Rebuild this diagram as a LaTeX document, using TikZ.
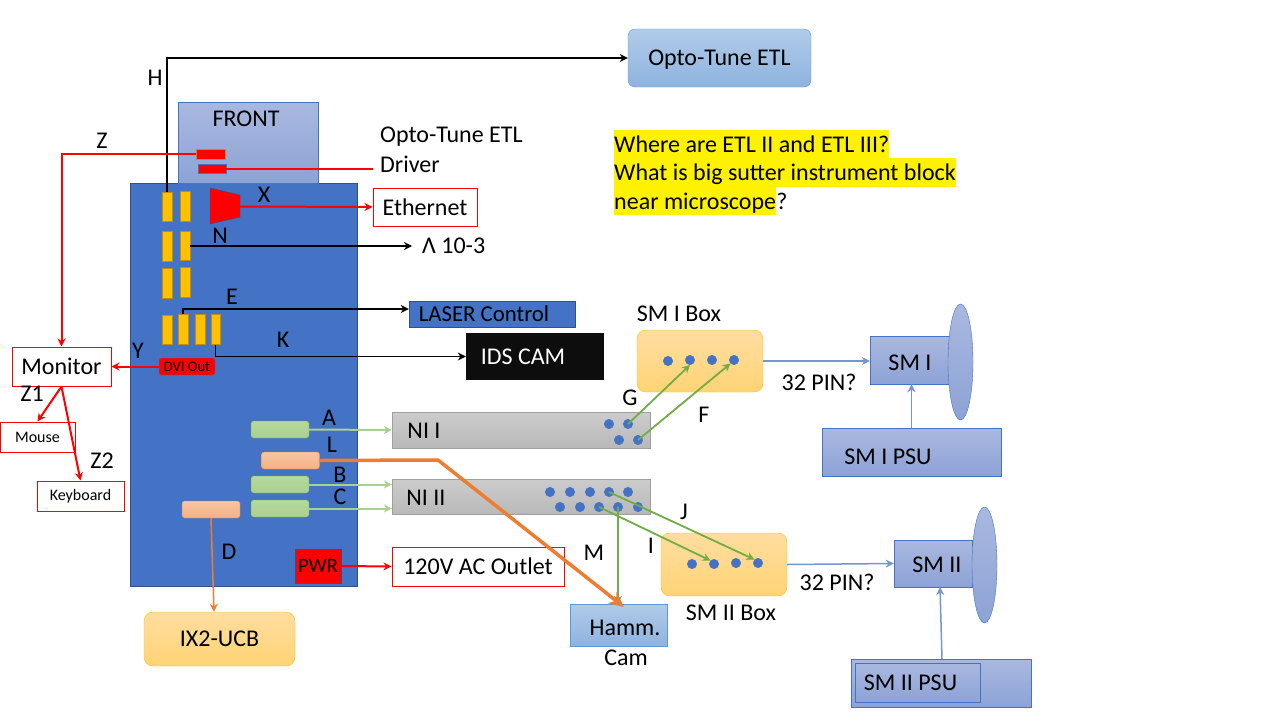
\documentclass[tikz,border=0pt]{standalone}
\usepackage{fontspec}
\setmainfont{Carlito}
\usetikzlibrary{positioning,shapes.geometric,arrows.meta}
\definecolor{mainblue}{HTML}{4472C4}
\definecolor{mainedge}{HTML}{2F528F}
\definecolor{slotfill}{HTML}{FFC000}
\definecolor{slotedge}{HTML}{BF9000}
\definecolor{lightgreen}{HTML}{A9D18E}
\definecolor{darkgreen}{HTML}{70AD47}
\definecolor{cableorange}{HTML}{ED7D31}
\definecolor{paletop}{HTML}{A9B8DF}
\definecolor{palebottom}{HTML}{8DA3D6}
\definecolor{skytop}{HTML}{B1CBE9}
\definecolor{skybottom}{HTML}{8EB3DF}
\definecolor{skyedge}{HTML}{5B9BD5}
\definecolor{suntop}{HTML}{FFDDA0}
\definecolor{sunbottom}{HTML}{FFD475}
\tikzset{
  sized/.style 2 args={inner sep=0pt,minimum width=#1,minimum height=#2},
  bluebox/.style={draw=mainblue,top color=paletop,bottom color=palebottom},
  skybox/.style={draw=skyedge,top color=skytop,bottom color=skybottom},
  sunbox/.style={draw=slotfill,rounded corners=9pt,top color=suntop,bottom color=sunbottom},
  redbox/.style={draw=red,fill=white,line width=1pt},
  nibox/.style={draw=gray!75,top color=gray!40,bottom color=gray!55},
  slot/.style={draw=slotedge,fill=slotfill,inner sep=0pt,line width=.8pt},
  greenplug/.style={draw=darkgreen,rounded corners=2.5pt,top color=lightgreen!85,bottom color=lightgreen,sized={58pt}{17pt}},
  orangeplug/.style={draw=cableorange,rounded corners=2.5pt,top color=cableorange!45,bottom color=cableorange!60,sized={58pt}{17pt}},
  pindot/.style={circle,draw=mainblue,fill=mainblue,inner sep=0pt,minimum size=9.5pt},
  qline/.style={anchor=west,inner sep=0pt,text height=22.5pt,text depth=6pt},
  smalltext/.style={font=\fontsize{16}{19}\selectfont},
  redline/.style={->,draw=red,line width=2pt},
  blackline/.style={->,draw=black,line width=1.8pt},
  greenline/.style={->,draw=lightgreen,line width=2pt},
  wireline/.style={->,draw=darkgreen,line width=1.8pt},
  sensorline/.style={->,draw=mainblue!75,line width=1.5pt}
}
\begin{document}
\begin{tikzpicture}[x=1pt,y=-1pt,>={Stealth[length=8pt,width=8pt]},font=\fontsize{24}{28}\selectfont]
  \useasboundingbox (0,0) rectangle (1280,720);
  % computer and front panel
  \node[draw=mainedge,fill=mainblue,sized={227pt}{403pt}] (pc) at (243.5,384.5) {};
  \node[bluebox,sized={140pt}{81pt}] (front) at (248,142.5) {};
  \node (frontlabel) at (246,119) {FRONT};
  \node[draw=slotedge,fill=red,sized={29pt}{10pt}] (frontA) at (210.5,154) {};
  \node[draw=mainblue,fill=red,sized={28pt}{9pt}] (frontB) at (212,168.5) {};
  \node[anchor=west,inner sep=0pt,text depth=0pt] (driverA) at (380,135) {Opto-Tune ETL};
  \node[anchor=west,inner sep=0pt] (driverB) at (380,164) {Driver};
  \draw[red,line width=2pt] (frontB.east) -- ([xshift=-7pt]driverB.west |- frontB.east);
  % outlets on the back
  \foreach \n/\x/\y/\w in {slotA/167/207/10,slotB/185/206.5/10,slotC/167/246.5/10,slotD/185/246/10,
      slotE/167/283.5/10,slotF/185/282.5/10,slotG/167/330/10,slotH/183/329.5/10,slotI/200/329.5/10,slotJ/215.5/329.5/9}
    \node[slot,minimum width=\w pt,minimum height=29.5pt] (\n) at (\x,\y) {};
  \draw[draw=mainedge,fill=red] (210,188) coordinate (trapL) -- (240,195) -- (240,217) -- (210,224) -- cycle;
  \coordinate (trapR) at (240,206.5);
  \node[draw=mainblue,fill=red,rounded corners=2pt,sized={56pt}{17pt},font=\fontsize{14.6}{17}\selectfont] (dvi) at (187,366.5) {DVI Out};
  \node[greenplug] (plugA) at (280,429.5) {};
  \node[orangeplug] (plugL) at (290.5,460.5) {};
  \node[greenplug] (plugB) at (280,484.5) {};
  \node[greenplug] (plugC) at (280,508.5) {};
  \node[orangeplug] (plugD) at (211,509.5) {};
  \node[draw=mainedge,fill=red,sized={46pt}{34pt},font=\fontsize{20.5}{24}\selectfont] (pwr) at (318,566) {PWR\hspace{3pt}};
  % boxes outside
  \node[skybox,rounded corners=7pt,sized={183pt}{58pt},text depth=0pt] (etl) at (719.5,58) {Opto-Tune ETL};
  \node[redbox,sized={104pt}{38pt}] (ethernet) at (425,207) {Ethernet};
  \node[anchor=west,inner sep=0pt] (lambda) at (422,246) {Λ 10-3};
  \node[draw=mainedge,fill=mainblue,sized={166pt}{26pt},font=\fontsize{22.8}{27}\selectfont] (laser) at (492,314) {\hspace{-16pt}LASER Control};
  \node[fill=black!95,text=white,sized={138pt}{47pt}] (idscam) at (535,356.5) {\hspace{-24pt}IDS CAM};
  \node[redbox,sized={99pt}{39pt}] (monitor) at (61.5,366.5) {Monitor};
  \node[redbox,sized={75pt}{30pt},smalltext] (mouse) at (37.5,437) {Mouse};
  \node[redbox,sized={87pt}{30pt},smalltext] (keyboard) at (80.5,496) {Keyboard};
  \node[nibox,sized={258pt}{36pt}] (niA) at (521,430) {};
  \node[nibox,sized={258pt}{35pt}] (niB) at (521,496.5) {};
  \node (niAlabel) at (424,431) {NI I};
  \node (niBlabel) at (426,498) {NI II};
  \node[redbox,sized={172pt}{39pt}] (outlet) at (478,566.5) {120V AC Outlet};
  \node[sunbox,sized={151pt}{54pt}] (ix) at (219.5,639) {IX2-UCB};
  \node[skybox,sized={97pt}{42pt}] (hamm) at (618.5,625) {};
  \node (hammlabel) at (625,628) {Hamm.};
  \node (camlabel) at (626,658) {Cam};
  \node[sunbox,sized={126pt}{62pt}] (boxA) at (700,361) {};
  \node[sunbox,sized={126pt}{63pt}] (boxB) at (724,564.5) {};
  \node (boxAlabel) at (679,314) {SM I Box};
  \node (boxBlabel) at (731,613) {SM II Box};
  \node[bluebox,sized={80pt}{48pt}] (smA) at (910,360) {};
  \node (smAlabel) at (910,363) {SM I};
  \node[bluebox,ellipse,sized={25pt}{116pt}] (lensA) at (960.5,362) {};
  \node[bluebox,sized={179pt}{48pt}] (psuA) at (911.5,452) {};
  \node (psuAlabel) at (888,457) {SM I PSU};
  \node[bluebox,sized={78pt}{47pt}] (smB) at (933,563.5) {};
  \node (smBlabel) at (937,565) {SM II};
  \node[bluebox,ellipse,sized={25pt}{116pt}] (lensB) at (984.5,565) {};
  \node[bluebox,sized={180pt}{48pt}] (psuB) at (941,683) {};
  \node[bluebox,sized={125pt}{39pt}] (psuBin) at (917.5,682.5) {\hspace{-14pt}SM II PSU};
  % pins
  \foreach \n/\x/\y in {dA/668/361,dB/690/360,dC/712/360,dD/734/360,eA/692/564,eB/714/564,eC/736/563,eD/758/563,
      nA/609/424,nB/628/424,nC/619/440,nD/638/440,
      mA/550/492,mB/570/492,mC/590/492,mD/609/492,mE/628/492,mF/560/507,mG/580/507,mH/599/507,mI/618/507,mJ/638/507}
    \node[pindot] (\n) at (\x,\y) {};
  % connectors
  \coordinate (lambdatip) at (412,246);
  \draw[blackline] (slotA.north) |- (etl.west);
  \draw[redline] (frontA.west) -| (monitor.north);
  \draw[redline] (trapR) -- (ethernet.west);
  \draw[blackline] (slotD.east) -- (lambdatip);
  \draw[blackline] (slotH.north) |- ([yshift=5pt]laser.west);
  \draw[blackline] (slotJ.south) |- (idscam.west);
  \draw[redline] (dvi.west) -- (monitor.east);
  \draw[redline] (monitor.south) -- (mouse.north);
  \draw[redline] (monitor.south) -- (keyboard.north);
  \draw[greenline] (plugA.east) -- (niA.west);
  \draw[greenline] (plugB.east) -- (plugB.east -| niB.west);
  \draw[greenline] (plugC.east) -- (plugC.east -| niB.west);
  \draw[->,draw=cableorange,line width=1.5pt] (plugD.south) -- ([xshift=-5.5pt]ix.north);
  \draw[redline] (pwr.east) -- (outlet.west);
  \draw[wireline] (nB.center) -- (dB.south);
  \draw[wireline] (nD.center) -- (dD.south west);
  \draw[wireline] (mH.center) -- (eB.north west);
  \draw[wireline] (mD.center) -- (eD.north west);
  \draw[wireline] (mI.center) -- (mI.center |- hamm.north);
  \draw[sensorline] (boxA.east) -- (smA.west |- boxA.east);
  \draw[sensorline] (boxB.east) -- (smB.west);
  \draw[sensorline] (psuA.north) -- (psuA.north |- smA.south);
  \coordinate (smBfoot) at (940,587);
  \draw[sensorline] ([xshift=1pt]psuB.north) -- (smBfoot);
  \coordinate (lbend) at (438,460);
  \coordinate (hammtip) at (624,607);
  \draw[-{Stealth[length=15pt,width=14pt]},draw=cableorange,line width=3.5pt] (plugL.east) -- (lbend) -- (hammtip);
  % letters
  \foreach \n/\t/\x/\y in {labH/H/155/78,labZ/Z/102/141,labX/X/264/195,labN/N/220/236,labE/E/232/297,labK/K/283/340,
      labY/Y/138/351,labZa/Z1/32/394,labZb/Z2/102/461,labA/A/329/418,labL/L/332/445,labB/B/340/475,labC/C/340/497,labD/D/229/552,
      labG/G/630/398,labF/F/704/415,labM/M/594/553,labI/I/651/546,labJ/J/684/512,labPa/32 PIN?/819/382,labPb/32 PIN?/837/582}
    \node[inner sep=0pt] (\n) at (\x,\y) {\t};
  % question
  \node[qline,fill=yellow] (qA) at (614,144) {Where are ETL II and ETL III?};
  \node[qline,fill=yellow] (qB) at (614,172.5) {What is big sutter instrument block};
  \node[qline,fill=yellow] (qC) at (614,201) {near microscope};
  \node[qline,right=0pt of qC] (qD) {?};
\end{tikzpicture}
\end{document}
